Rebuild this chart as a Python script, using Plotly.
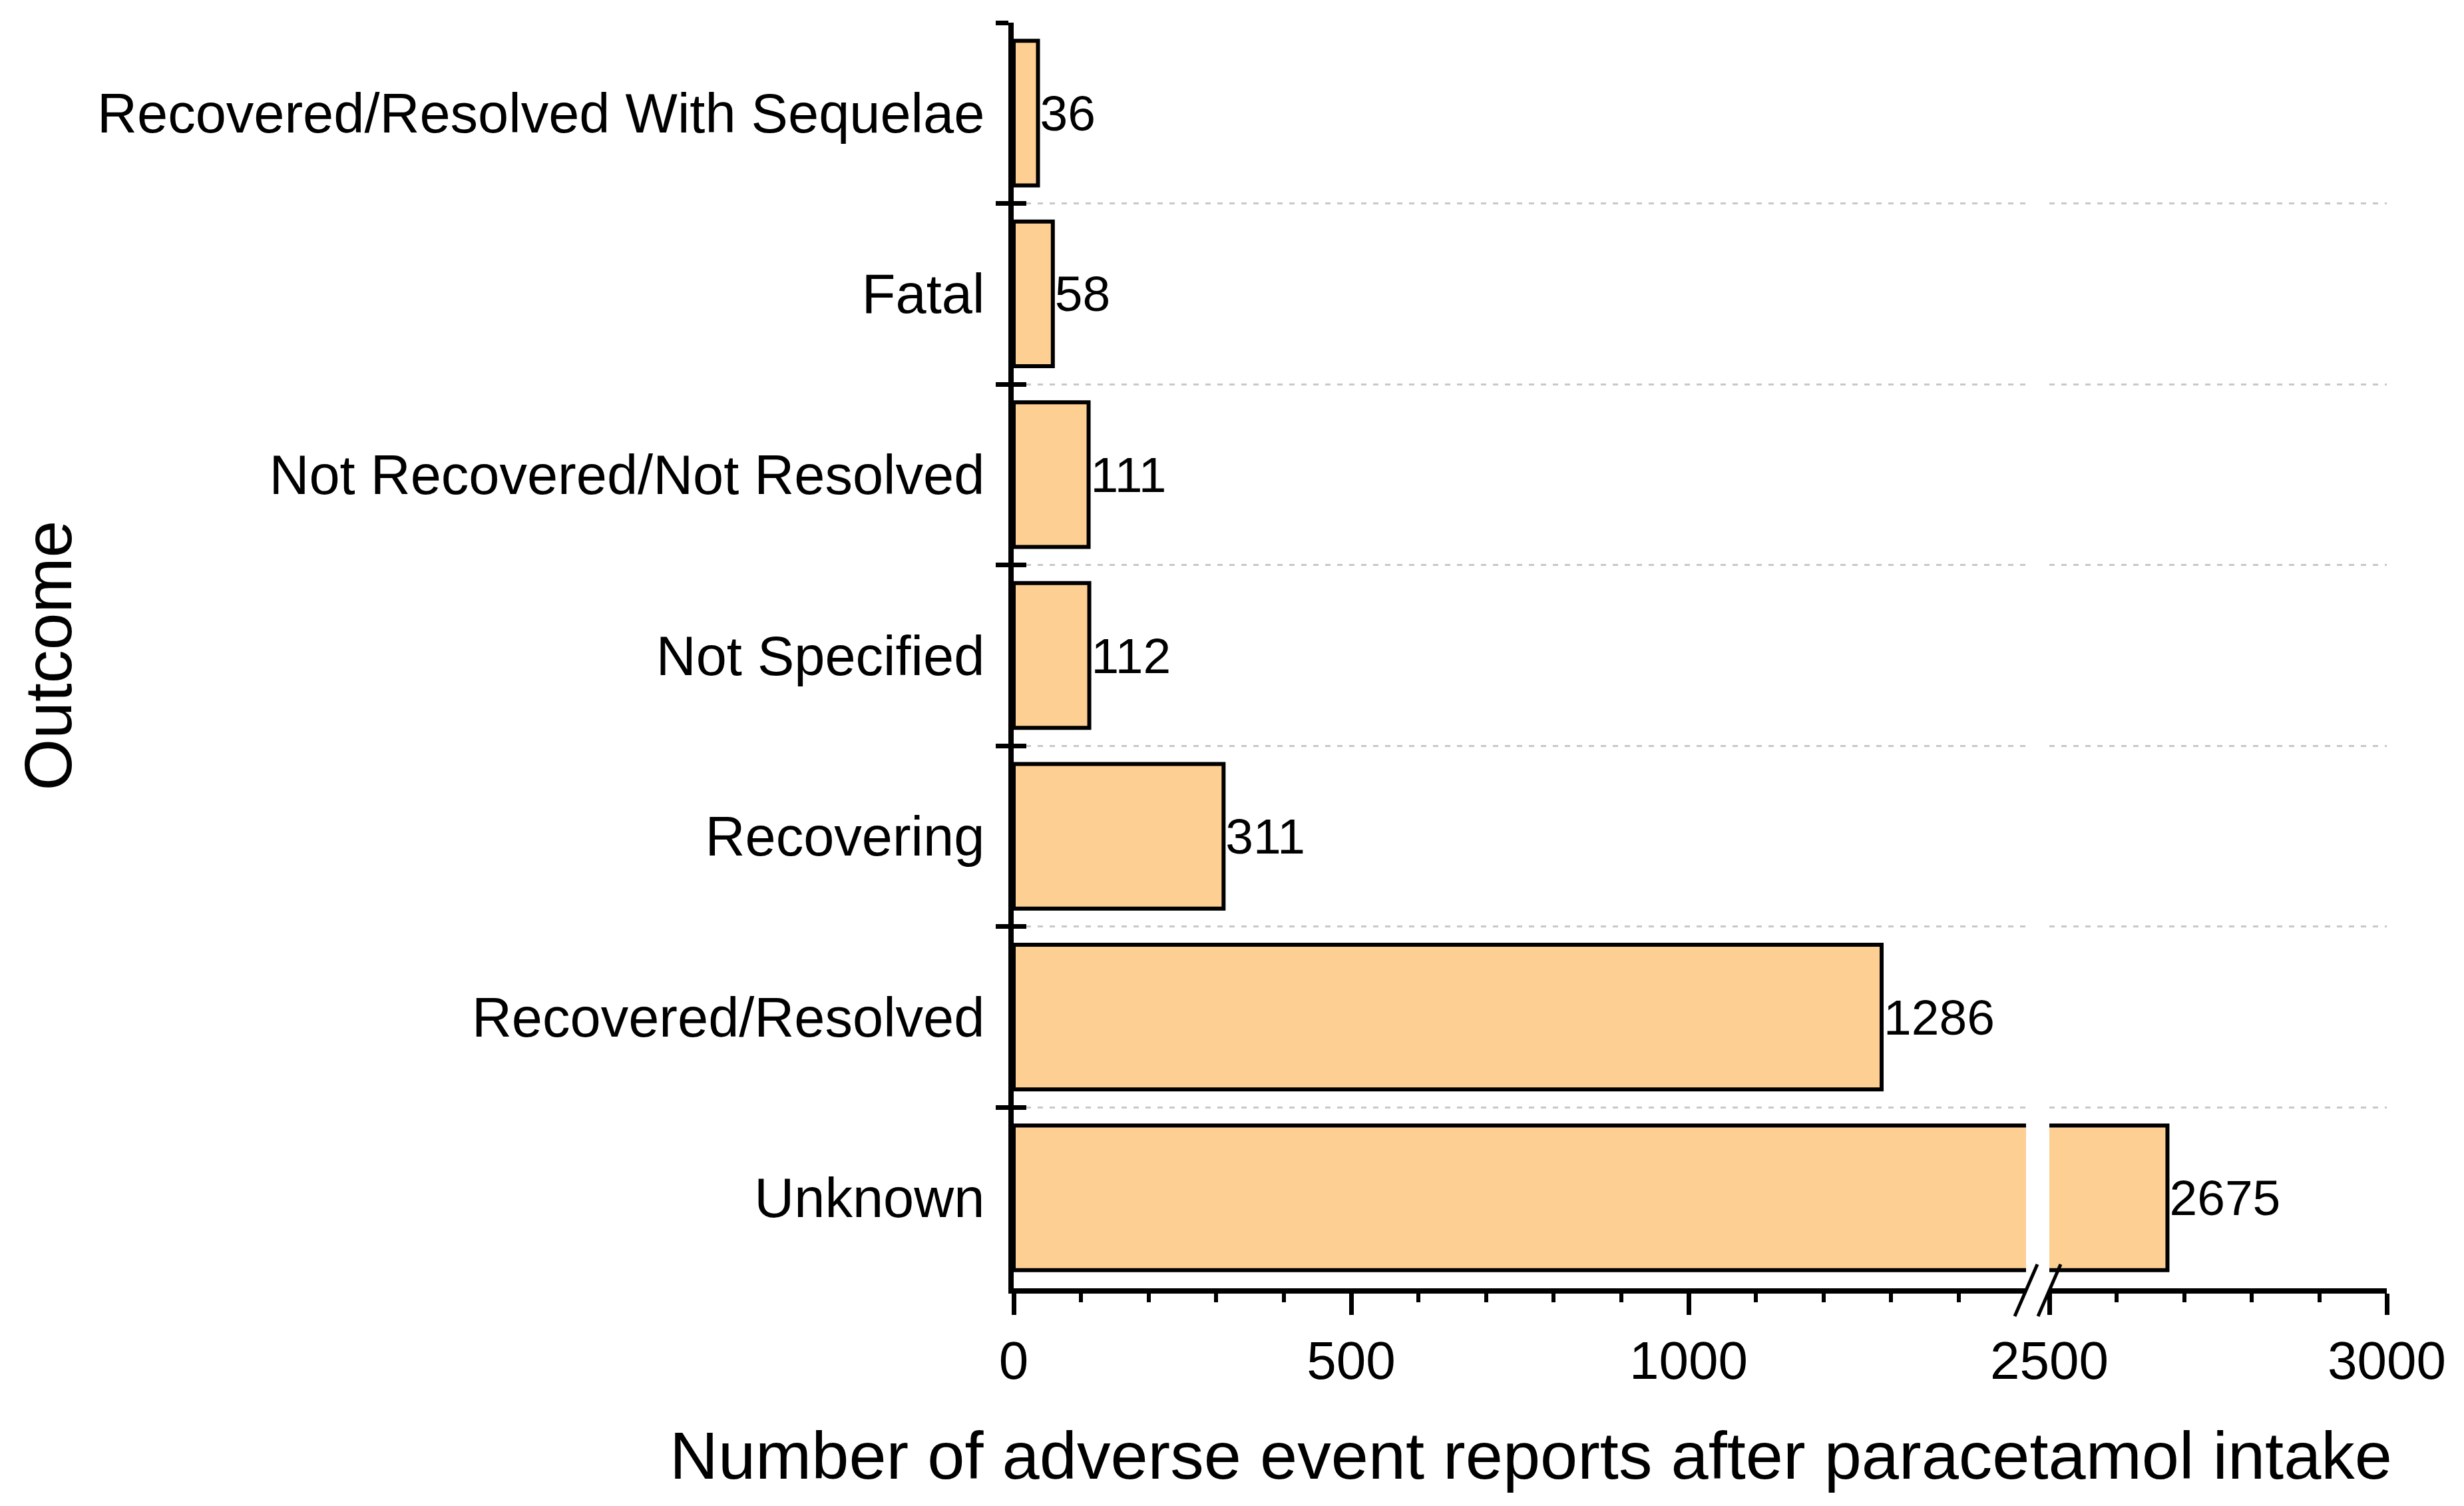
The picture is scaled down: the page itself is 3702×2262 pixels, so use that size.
import plotly.graph_objects as go

categories = ["Recovered/Resolved With Sequelae", "Fatal", "Not Recovered/Not Resolved",
              "Not Specified", "Recovering", "Recovered/Resolved", "Unknown"]
counts = [36, 58, 111, 112, 311, 1286, 2675]

left_range = [0, 1500]
right_range = [2500, 3000]
left_major = [0, 500, 1000]
left_minor = [100, 200, 300, 400, 600, 700, 800, 900, 1100, 1200, 1300, 1400]
right_major = [2500, 3000]
right_minor = [2600, 2700, 2800, 2900]

FONT = "Liberation Sans, Arial, sans-serif"
FILL = "rgb(254,207,146)"

text_left = [str(v) if v <= left_range[1] else "" for v in counts]
text_right = [str(v) if v >= right_range[0] else "" for v in counts]

fig = go.Figure()
common = dict(orientation="h", y=categories, x=counts, width=0.8,
              marker=dict(color=FILL, line=dict(color="black", width=6)),
              textposition="outside", constraintext="none", cliponaxis=True,
              textfont=dict(family=FONT, size=75, color="black"),
              hoverinfo="skip", showlegend=False)
fig.add_trace(go.Bar(xaxis="x", yaxis="y", text=text_left, **common))
fig.add_trace(go.Bar(xaxis="x2", yaxis="y", text=text_right, **common))
# invisible helper for the inner half of the crossing y ticks
fig.add_trace(go.Scatter(x=counts, y=categories, xaxis="x", yaxis="y3", mode="markers",
                         marker=dict(opacity=0), hoverinfo="skip", showlegend=False))

W, H = 3702, 2262
L, R, T, B = 1523, 116, 34, 327
plot_w = W - L - R
gap_px = 35
left_frac = (plot_w - gap_px) * (left_range[1] - left_range[0]) / (
    (left_range[1] - left_range[0]) + (right_range[1] - right_range[0])) / plot_w
right_start = left_frac + gap_px / plot_w

axis_common = dict(showline=True, linecolor="black", linewidth=8, ticks="outside",
                   ticklen=32, tickwidth=7, tickcolor="black", showgrid=False,
                   zeroline=False, tickfont=dict(family=FONT, size=80, color="black"),
                   tickmode="array", fixedrange=True)
fig.update_layout(
    width=W, height=H, margin=dict(l=L, r=R, t=T, b=B),
    paper_bgcolor="white", plot_bgcolor="white", bargap=0.2,
    xaxis=dict(domain=[0, left_frac], range=left_range, tickvals=left_major,
               minor=dict(tickmode="array", tickvals=left_minor, ticks="outside",
                          ticklen=13, tickwidth=6, tickcolor="black"),
               anchor="y", **axis_common),
    xaxis2=dict(domain=[right_start, 1], range=right_range,
                tickvals=right_major,
                minor=dict(tickmode="array", tickvals=right_minor, ticks="outside",
                           ticklen=13, tickwidth=6, tickcolor="black"),
                anchor="y", **axis_common),
    yaxis=dict(type="category", categoryorder="array", categoryarray=categories,
               autorange="reversed", tickson="boundaries", ticks="outside",
               ticklen=19, tickwidth=7, tickcolor="black", showline=True,
               linecolor="black", linewidth=8, showgrid=True, gridcolor="#C8C8C8",
               gridwidth=3, griddash="8px,10px", zeroline=False, ticklabelstandoff=19,
               tickfont=dict(family=FONT, size=83, color="black"), anchor="x",
               fixedrange=True),
    yaxis3=dict(type="category", categoryorder="array", categoryarray=categories,
                overlaying="y", matches="y", anchor="x", side="left",
                tickson="boundaries", ticks="inside", ticklen=19, tickwidth=7,
                tickcolor="black", showticklabels=False, showgrid=False,
                showline=False, zeroline=False, fixedrange=True),
)

# axis-break marks
for xa in (left_frac, right_start):
    fig.add_shape(type="line", xref="paper", xsizemode="pixel", xanchor=xa, x0=-17, x1=17,
                  yref="paper", ysizemode="pixel", yanchor=0, y0=-42, y1=36,
                  line=dict(color="black", width=5))

fig.add_annotation(text="Number of adverse event reports after paracetamol intake",
                   xref="paper", x=1, xanchor="right", xshift=10, yref="paper", y=0,
                   yanchor="middle", yshift=-251, showarrow=False,
                   font=dict(family=FONT, size=101, color="black"))
fig.add_annotation(text="Outcome", textangle=-90, xref="paper", x=0, xshift=-1452,
                   xanchor="center", yref="paper", y=0.5, yanchor="middle", showarrow=False,
                   font=dict(family=FONT, size=100, color="black"))

fig.write_html("out.html", config={"displayModeBar": False},
               post_script="document.body.style.margin='0';")
